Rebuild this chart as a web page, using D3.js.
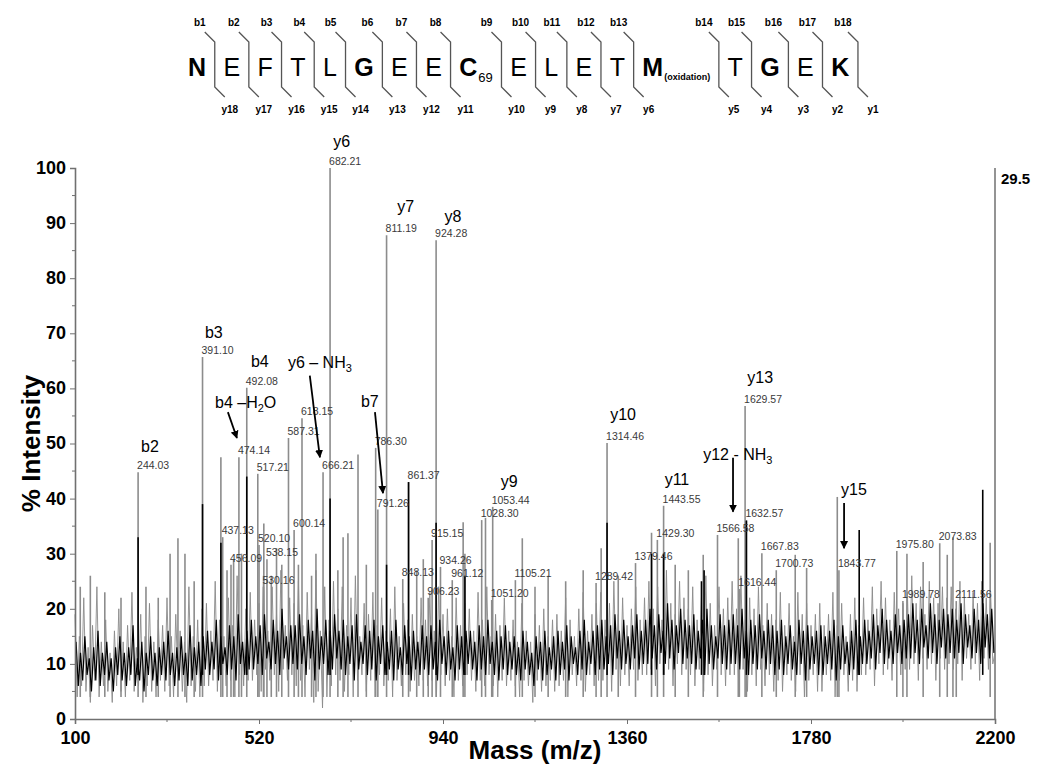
<!DOCTYPE html>
<html><head><meta charset="utf-8">
<script src="https://cdn.jsdelivr.net/npm/d3@7"></script>
<style>body{margin:0;background:#fff;} svg{display:block;}</style>
</head><body><svg id="c" width="1050" height="784"></svg>
<script>
// ---------------- data ----------------
const xTicks = [100, 520, 940, 1360, 1780, 2200];
const yTicks = [0, 10, 20, 30, 40, 50, 60, 70, 80, 90, 100];
const rightLabel = "29.5";

// profile spectrum sampled every 5 Da from 100 Da (gray trace) and from 102.5 Da (black trace)
const profileStart = 100, profileStep = 5, blackOffset = 2.5;
const grayProfile = [
19,4,15,6,22,5,13,3,17,7,24,4,14,6,18,5,12,3,16,6,
20,5,14,4,17,7,23,5,13,6,19,3,15,6,21,5,14,4,18,7,
17,5,22,6,15,4,19,7,16,5,14,3,24,6,15,5,18,4,20,6,
21,6,16,7,25,5,18,8,15,6,22,7,17,4,26,8,16,6,20,7,
23,7,18,8,21,5,26,9,16,7,24,8,19,5,27,9,17,7,22,8,
21,6,25,7,17,4,23,9,19,3,27,5,16,2,24,4,18,6,25,8,
20,7,24,5,17,8,22,4,26,7,15,8,21,5,19,7,23,4,17,8,
22,6,16,7,20,4,24,7,15,6,21,8,18,5,19,7,15,6,22,7,
18,6,23,7,16,4,24,8,19,6,20,7,15,4,22,7,17,6,21,8,
20,7,16,5,23,7,18,6,24,8,15,6,19,4,17,7,22,6,16,7,
18,6,14,4,21,7,16,6,14,3,19,7,17,5,20,6,15,7,18,5,
19,6,16,7,22,4,18,8,15,6,20,7,23,5,16,8,19,6,21,7,
23,7,18,8,21,5,25,9,19,6,22,8,17,6,20,9,24,7,18,8,
22,8,25,9,20,6,24,10,18,8,27,9,21,6,19,10,25,8,22,9,
20,8,24,6,18,9,22,5,26,8,21,6,17,9,24,8,20,6,22,8,
25,8,20,6,26,9,18,5,22,8,20,6,24,9,17,6,21,8,19,5,
18,7,23,5,17,8,21,7,15,5,23,8,19,4,21,7,17,8,19,5,
21,5,17,8,19,7,23,4,17,7,21,8,15,5,19,7,22,5,17,8,
22,8,18,9,24,6,20,10,25,8,22,9,18,7,23,10,20,8,21,9,
23,9,26,10,21,7,24,11,19,9,25,10,22,7,21,11,24,9,22,10,
24,9,20,10,25,7,22,11,19,9,23,10,21,7,25,11,22,9,23,10,
12];
const blackProfile = [
14,6,12,7,15,8,11,5,13,7,16,6,12,8,14,7,11,5,13,8,
15,7,12,6,13,8,17,6,11,7,14,5,12,8,15,7,12,6,13,8,
14,7,16,8,12,6,13,7,15,8,12,6,17,7,13,8,14,6,15,9,
16,8,14,9,18,7,15,10,13,8,17,9,15,7,19,10,14,8,16,9,
18,9,15,10,17,8,19,11,14,9,18,10,16,8,20,11,15,9,17,10,
17,9,19,10,15,8,18,11,16,7,20,9,15,10,18,8,16,9,19,11,
16,9,18,8,15,10,17,7,19,9,14,10,17,8,16,9,18,7,15,10,
17,8,14,9,16,7,18,9,13,8,17,10,15,7,16,9,14,8,17,9,
15,8,17,9,14,7,18,10,15,8,16,9,13,7,17,9,15,8,16,10,
16,9,14,7,17,9,15,8,18,10,14,8,16,7,15,9,17,8,14,9,
15,8,13,7,16,9,14,8,12,6,15,9,14,7,16,8,13,9,15,7,
16,8,14,9,17,7,15,10,13,8,16,9,18,8,14,10,16,8,17,9,
18,9,15,10,17,8,19,11,16,9,18,10,15,9,17,11,19,9,16,10,
18,10,20,11,17,9,19,12,16,10,21,11,18,9,17,12,20,10,18,11,
17,10,19,9,16,11,18,8,20,10,17,9,15,11,19,10,17,9,18,10,
19,10,17,9,20,11,16,8,18,10,17,9,19,11,16,9,18,10,17,8,
16,9,18,8,15,10,17,9,14,8,18,10,16,7,17,9,15,10,16,8,
17,8,15,10,16,9,18,7,15,9,17,10,14,8,16,9,18,8,15,10,
18,10,16,11,19,9,17,12,20,10,18,11,16,10,19,12,17,10,18,11,
19,11,21,12,18,10,20,13,17,11,21,12,19,10,18,13,20,11,19,12,
20,11,18,12,21,10,19,13,17,11,20,12,18,10,21,13,19,11,20,12];

// labelled peaks: m/z, % intensity
const peakMass = [244.03,391.10,437.13,456.09,474.14,492.08,517.21,520.10,530.16,538.15,587.31,600.14,618.15,666.21,682.21,786.30,791.26,811.19,848.13,861.37,906.23,915.15,924.28,934.26,961.12,1028.30,1051.20,1053.44,1105.21,1289.42,1314.46,1379.46,1429.30,1443.55,1566.58,1616.44,1629.57,1632.57,1667.83,1700.73,1843.77,1975.80,1989.78,2073.83,2111.56];
const peakInt  = [44.8,65.7,33,28,47.5,60.1,44.5,31.6,24,29,51,34.3,54.6,44.8,100,49.2,38,87.8,25.4,43,22,32.5,86.9,27.6,25.2,36.1,21.6,38.5,25.2,24.7,50.1,28.3,32.5,38.7,33.4,23.6,56.8,36.1,30.1,27,27,30.5,21.4,31.9,21.4];

// further unlabelled spikes (gray trace)
const grayMass = [112,135,168,205,262,290,317,335,351,372,433,447,462,480,531,548,560,572,610,640,650,700,712,723,746,765,880,895,986,990,1037,1121,1150,1180,1220,1260,1301,1340,1416,1470,1500,1534,1614,1744,1770,1840,1999,2036,2091,2104,2189];
const grayInt  = [24,26,23,22,24,22,30,32.8,30,25,47.5,27,29,30,35.5,26,31,28,28,26,30,27,33,33.7,48,28,27,29,35.7,30,36.5,32.8,24,26,25,27,31,26,33.8,28,27,29.8,32.8,29.8,27.4,40.3,30,28.5,29.8,33,32];
// spikes of the black trace
const blackMass = [244.03,391.10,433,492.08,682.21,811.19,861.37,924.28,990,1314.46,1416,1443.55,1530,1536,1632.57,1890,2172];
const blackInt  = [33,39,32,44,40,28,43,35.6,26,35.6,30,30,25,27,36,34.3,41.6];

// ion annotations: text parts (odd index = subscript), anchor m/z, anchor intensity, text anchor
const ionText   = [["b2"],["b3"],["b4"],["b4 \u2013H","2","O"],["y6 \u2013 NH","3"],["y6"],["y7"],["y8"],["b7"],["y9"],["y10"],["y11"],["y12 - NH","3"],["y13"],["y15"]];
const ionMass   = [271,417,522,419.6,586,709,855,963,773,1091,1351,1474,1534,1664,1878];
const ionInt    = [48.5,69.1,63.9,56.4,63.7,103.8,92,90.2,56.6,42.1,54.3,42.5,47,61,40.7];
const ionAnchor = ["middle","middle","middle","start","start","middle","middle","middle","middle","middle","middle","middle","start","middle","middle"];

// arrows: from (m/z, %) to (m/z, %)
const arrowFrom = [[449,55.7],[636,62.3],[784.7,55.7],[1602,47.4],[1855.5,39.2]];
const arrowTo   = [[469.6,51],[659,47.5],[803,41],[1602,37.6],[1855.5,31]];

// peptide sequence
const residues   = ["N","E","F","T","L","G","E","E","C","E","L","E","T","M","T","G","E","K"];
const residueSub = ["","","","","","","","","69","","","","","(oxidation)","","","",""];
const residueBold= [true,false,false,false,false,true,false,false,true,false,false,false,false,true,false,true,false,true];

// ---------------- drawing ----------------
const svg = d3.select("#c");
const FONT = "'Liberation Sans', Arial, sans-serif";
const x = d3.scaleLinear().domain([100, 2200]).range([75, 995]);
const y = d3.scaleLinear().domain([0, 100]).range([719, 168]);
const stickBase = 4;

// right frame line
svg.append("line").attr("x1", x(2200)).attr("x2", x(2200)).attr("y1", y(100)).attr("y2", y(0))
  .attr("stroke", "#707070").attr("stroke-width", 1.5);
svg.append("text").attr("x", x(2200) + 6).attr("y", y(100) + 16).text(rightLabel)
  .attr("font-family", FONT).attr("font-weight", "bold").attr("font-size", 15);

// gray trace
const grayLine = d3.line().x((d, i) => x(profileStart + i * profileStep)).y(d => y(d));
svg.append("path").datum(grayProfile).attr("d", grayLine)
  .attr("fill", "none").attr("stroke", "#8a8a8a").attr("stroke-width", 0.9);

// gray sticks
const graySticks = grayMass.map((m, i) => [m, grayInt[i]]).concat(peakMass.map((m, i) => [m, peakInt[i]]));
svg.append("g").selectAll("line").data(graySticks).join("line")
  .attr("x1", d => x(d[0])).attr("x2", d => x(d[0]))
  .attr("y1", y(stickBase)).attr("y2", d => y(d[1]))
  .attr("stroke", "#8c8c8c").attr("stroke-width", 1.6);

// black trace
const blackLine = d3.line().x((d, i) => x(profileStart + blackOffset + i * profileStep)).y(d => y(d));
svg.append("path").datum(blackProfile).attr("d", blackLine)
  .attr("fill", "none").attr("stroke", "#000").attr("stroke-width", 1.2);

// black sticks
svg.append("g").selectAll("line").data(blackMass.map((m, i) => [m, blackInt[i]])).join("line")
  .attr("x1", d => x(d[0])).attr("x2", d => x(d[0]))
  .attr("y1", y(stickBase + 4)).attr("y2", d => y(d[1]))
  .attr("stroke", "#000").attr("stroke-width", 1.6);

// peak m/z labels
svg.append("g").selectAll("text").data(peakMass.map((m, i) => [m, peakInt[i]])).join("text")
  .attr("x", d => x(d[0]) - 1).attr("y", d => y(d[1]) - 3)
  .attr("font-family", FONT).attr("font-size", 10.5).attr("fill", "#3a3a3a")
  .text(d => d[0].toFixed(2));

// axes
const axL = svg.append("g").attr("transform", `translate(${x(100)},0)`)
  .call(d3.axisLeft(y).tickValues(yTicks).tickSize(5).tickPadding(4).tickFormat(d3.format("d")));
const axB = svg.append("g").attr("transform", `translate(0,${y(0)})`)
  .call(d3.axisBottom(x).tickValues(xTicks).tickSize(5).tickPadding(7).tickFormat(d3.format("d")));
[axL, axB].forEach(a => {
  a.select(".domain").attr("stroke", "#707070").attr("stroke-width", 1.6);
  a.selectAll(".tick line").attr("stroke", "#707070");
  a.selectAll(".tick text").attr("font-family", FONT).attr("font-weight", "bold")
    .attr("font-size", 18).attr("fill", "#000");
});
axL.selectAll(".tick text").attr("dy", "0.30em");
// minor ticks
const yMinor = yTicks.slice(1).map(v => v - 5);
svg.append("g").selectAll("line").data(yMinor).join("line")
  .attr("x1", x(100) - 3).attr("x2", x(100)).attr("y1", d => y(d)).attr("y2", d => y(d))
  .attr("stroke", "#707070");
const xMinor = xTicks.slice(1).map(v => v - 210);
svg.append("g").selectAll("line").data(xMinor).join("line")
  .attr("x1", d => x(d)).attr("x2", d => x(d)).attr("y1", y(0)).attr("y2", y(0) + 3)
  .attr("stroke", "#707070");

// axis titles
svg.append("text").attr("transform", `translate(40,${(y(0) + y(100)) / 2}) rotate(-90)`)
  .attr("text-anchor", "middle").attr("font-family", FONT).attr("font-weight", "bold")
  .attr("font-size", 26).text("% Intensity");
svg.append("text").attr("x", (x(100) + x(2200)) / 2).attr("y", 759)
  .attr("text-anchor", "middle").attr("font-family", FONT).attr("font-weight", "bold")
  .attr("font-size", 26).text("Mass (m/z)");

// ion labels
ionText.forEach((parts, i) => {
  const t = svg.append("text").attr("x", x(ionMass[i])).attr("y", y(ionInt[i]))
    .attr("text-anchor", ionAnchor[i]).attr("font-family", FONT).attr("font-size", 16).attr("fill", "#000");
  parts.forEach((p, j) => {
    const ts = t.append("tspan").text(p);
    if (j % 2 === 1) ts.attr("font-size", 11).attr("dy", 4);
    else if (j > 0) ts.attr("dy", -4);
  });
});

// arrows
svg.append("defs").append("marker").attr("id", "ah").attr("viewBox", "0 0 10 10")
  .attr("refX", 9).attr("refY", 5).attr("markerWidth", 8).attr("markerHeight", 9)
  .attr("markerUnits", "userSpaceOnUse").attr("orient", "auto")
  .append("path").attr("d", "M0,0 L10,5 L0,10 Z").attr("fill", "#000");
arrowFrom.forEach((f, i) => {
  svg.append("line").attr("x1", x(f[0])).attr("y1", y(f[1]))
    .attr("x2", x(arrowTo[i][0])).attr("y2", y(arrowTo[i][1]))
    .attr("stroke", "#000").attr("stroke-width", 1.8).attr("marker-end", "url(#ah)");
});

// peptide sequence with fragmentation markers
const seq = svg.append("g");
let cursor = 188;
const gap = 17.4;
const seps = [];
residues.forEach((r, i) => {
  const t = seq.append("text").attr("x", cursor).attr("y", 76)
    .attr("font-family", FONT).attr("font-size", 25)
    .attr("font-weight", residueBold[i] ? "bold" : "normal").attr("fill", "#000");
  t.append("tspan").text(r);
  if (residueSub[i]) {
    const small = residueSub[i].length > 3;
    t.append("tspan").text(residueSub[i]).attr("font-size", small ? 9 : 13)
      .attr("font-weight", small ? "bold" : "normal").attr("dy", small ? 4 : 6).attr("dx", 1);
  }
  const w = t.node().getComputedTextLength() + (residueSub[i] ? 1 : 0);
  seps.push(cursor + w + gap / 2);
  cursor = cursor + w + gap;
});
seps.forEach((s, i) => {
  seq.append("path").attr("d", `M${s - 10},32 L${s},42 L${s},87 L${s + 10},97`)
    .attr("fill", "none").attr("stroke", "#555").attr("stroke-width", 1.3);
  seq.append("text").attr("x", s - 15).attr("y", 26).attr("text-anchor", "middle")
    .attr("font-family", FONT).attr("font-weight", "bold").attr("font-size", 10).text("b" + (i + 1));
  seq.append("text").attr("x", s + 15).attr("y", 113).attr("text-anchor", "middle")
    .attr("font-family", FONT).attr("font-weight", "bold").attr("font-size", 10).text("y" + (residues.length - i));
});
</script></body></html>
